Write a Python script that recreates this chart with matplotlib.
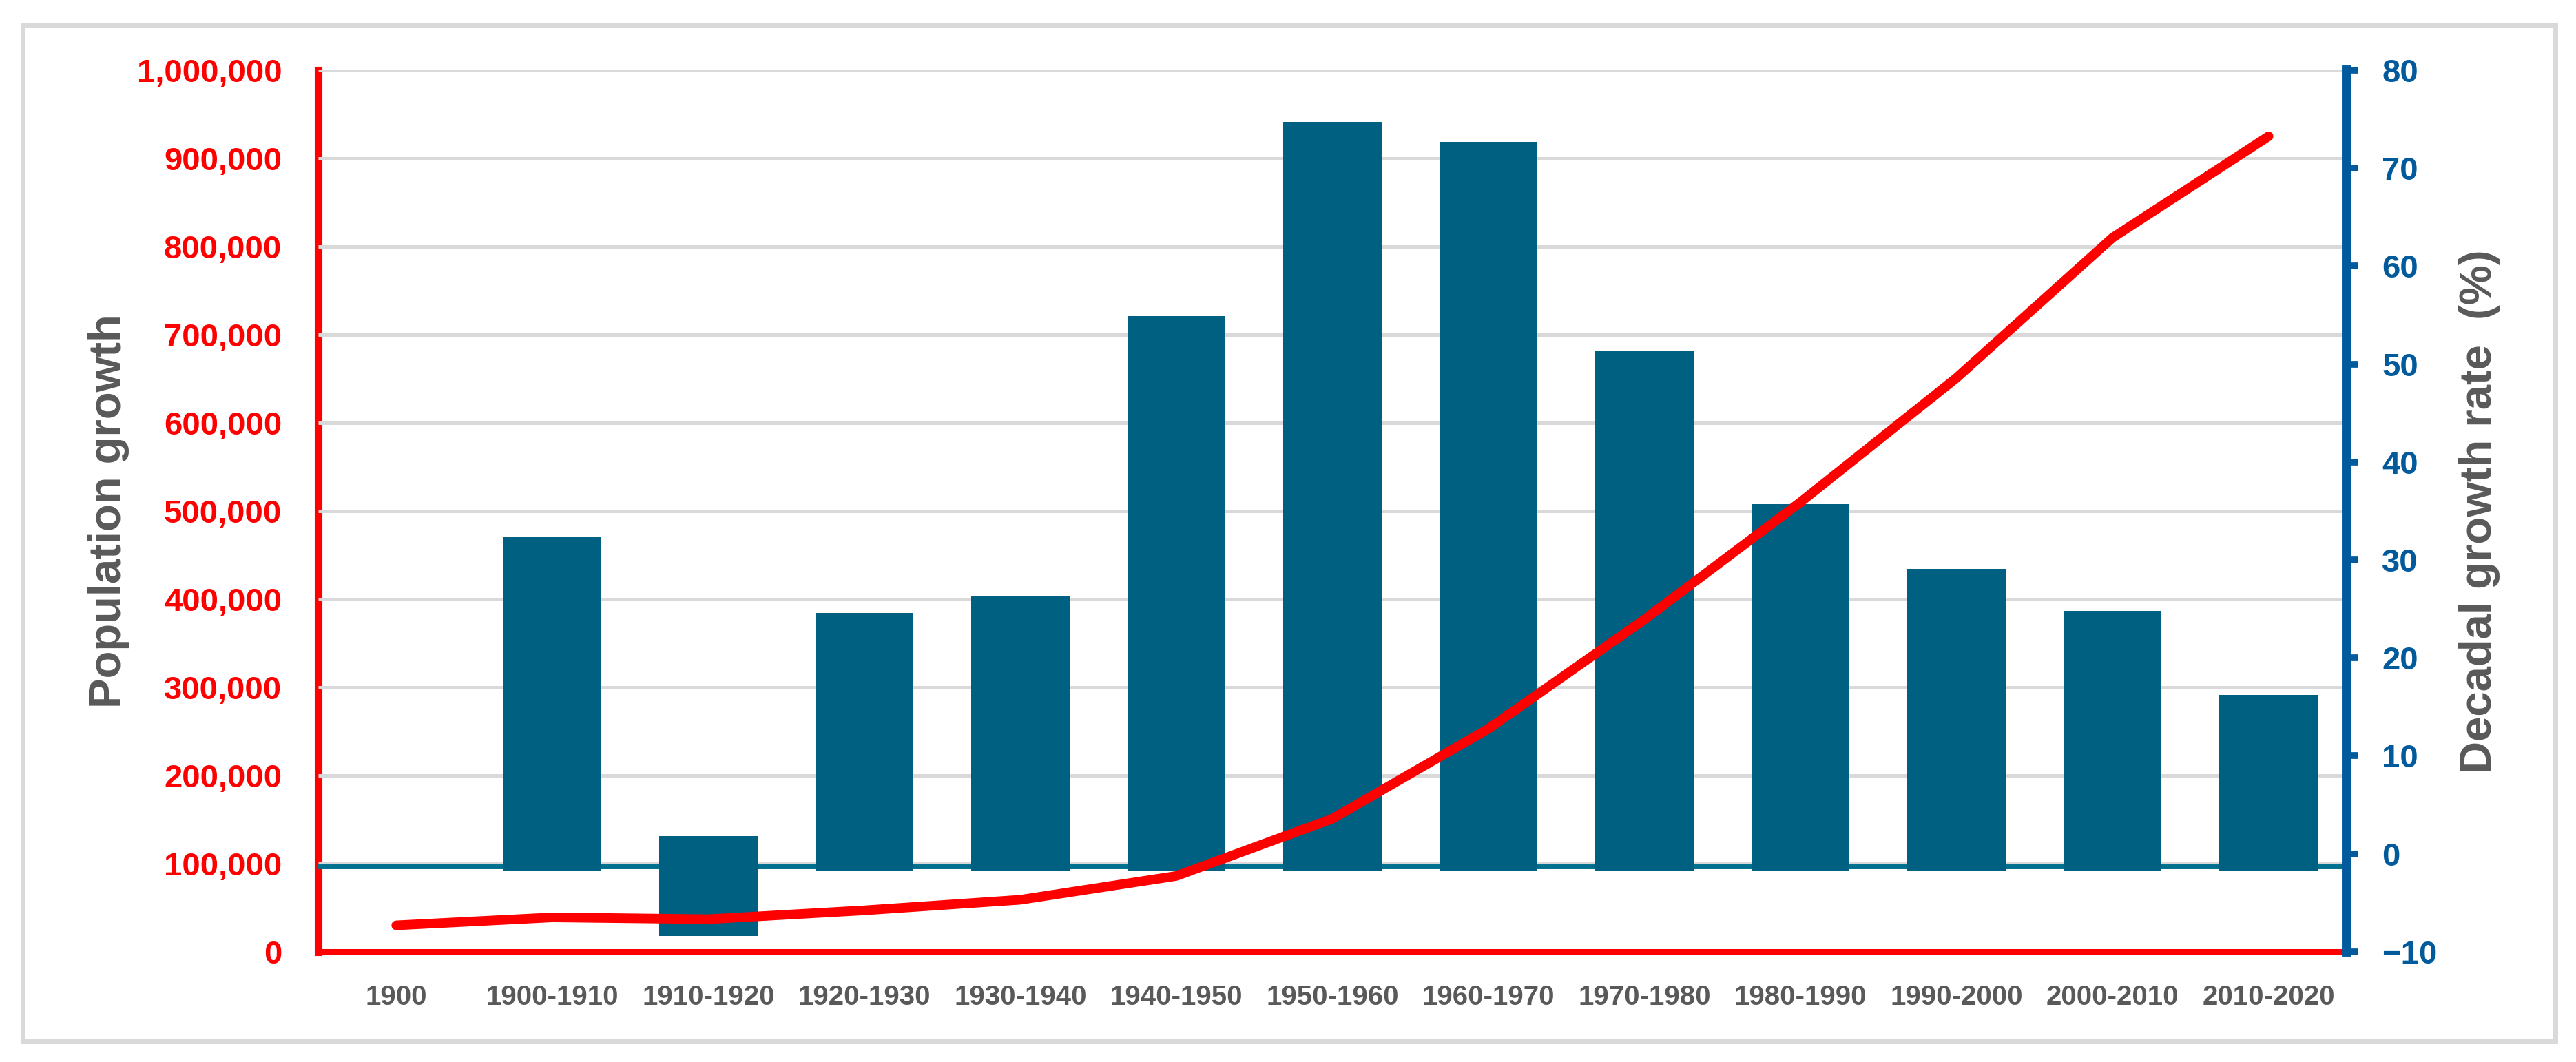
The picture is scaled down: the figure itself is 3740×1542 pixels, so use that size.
import numpy as np
import matplotlib
matplotlib.use("Agg")
import matplotlib.pyplot as plt
from matplotlib.patches import Rectangle

# data
periods = ['1900', '1900-1910', '1910-1920', '1920-1930', '1930-1940', '1940-1950',
           '1950-1960', '1960-1970', '1970-1980', '1980-1990', '1990-2000',
           '2000-2010', '2010-2020']
population = [30000, 39000, 37000, 47000, 59000, 86000, 151000, 253000,
              377000, 510000, 651000, 810000, 925000]
growth_rate = [np.nan, 32.3, -8.4, 24.6, 26.3, 54.9, 74.7, 72.7, 51.4,
               35.7, 29.1, 24.8, 16.2]
pop_ticks = list(range(0, 1000001, 100000))
rate_ticks = list(range(-10, 81, 10))

RED = '#FF0000'
BAR = '#006082'
BLUE_AX = '#005A9C'
GREY_TXT = '#595959'
GRID = '#D9D9D9'
BAR_BASE = -1.8   # bars in the source hang a bit below the zero line

plt.rcParams['font.family'] = ['Liberation Sans', 'DejaVu Sans']

fig = plt.figure(figsize=(37.41, 15.42), dpi=100)
fig.patch.set_facecolor('white')

# outer light grey frame
fig.patches.append(Rectangle((33 / 3741, 1 - 1512 / 1542), (3710 - 33) / 3741,
                             (1512 - 36) / 1542, transform=fig.transFigure,
                             fill=False, ec=GRID, lw=5))

ax = fig.add_axes([0.1235, 0.1038, 0.7872, 0.8301])
ax2 = ax.twinx()

x = np.arange(len(periods))
g = np.array(growth_rate, dtype=float)

# gridlines (left scale), drawn in the bar axes so bars cover them
ax2.hlines(pop_ticks[1:], -0.5, 12.5, transform=ax.transData, color=GRID,
           lw=3.6, zorder=0)
ax2.axhline(-1.3, color='#00708F', lw=5, zorder=1)

bottom = np.where(g >= 0, BAR_BASE, g)
top = np.where(g >= 0, g, -BAR_BASE)
ax2.bar(x, top - bottom, bottom=bottom, width=0.63, color=BAR, zorder=2)

# population line uses the left scale
ax2.plot(x, population, transform=ax.transData, color=RED, lw=10,
         solid_capstyle='round', solid_joinstyle='round', zorder=3)

ax.set_xlim(-0.5, 12.5)
ax.set_ylim(0, 1000000)
ax2.set_ylim(-10, 80)

ax.set_yticks(pop_ticks)
ax.set_yticklabels([f'{v:,}' for v in pop_ticks], color=RED,
                   fontsize=34, fontweight='bold')
ax.tick_params(axis='y', length=0, pad=38)
ax.set_xticks(x)
ax.set_xticklabels(periods, color=GREY_TXT, fontsize=29, fontweight='bold')
ax.tick_params(axis='x', length=0, pad=34)

ax2.set_yticks(rate_ticks)
ax2.set_yticklabels([str(v).replace('-', '\u2212') for v in rate_ticks],
                    color=BLUE_AX, fontsize=34, fontweight='bold')
ax2.tick_params(axis='y', direction='out', length=12, width=7,
                color=BLUE_AX, pad=25)

for s in ['top', 'right']:
    ax.spines[s].set_visible(False)
ax.spines['left'].set_color(RED)
ax.spines['left'].set_linewidth(8)
ax.spines['bottom'].set_color(RED)
ax.spines['bottom'].set_linewidth(6.5)
for s in ['top', 'left', 'bottom']:
    ax2.spines[s].set_visible(False)
ax2.spines['right'].set_color(BLUE_AX)
ax2.spines['right'].set_linewidth(10)

fig.text(158 / 3741, 1 - 742 / 1542, 'Population growth', rotation=90,
         ha='center', va='center', fontsize=47, fontweight='bold', color=GREY_TXT)
fig.text(3600 / 3741, 1 - 743 / 1542, 'Decadal growth rate  (%)', rotation=90,
         ha='center', va='center', fontsize=47, fontweight='bold', color=GREY_TXT)

fig.savefig('out.png', dpi=100)
